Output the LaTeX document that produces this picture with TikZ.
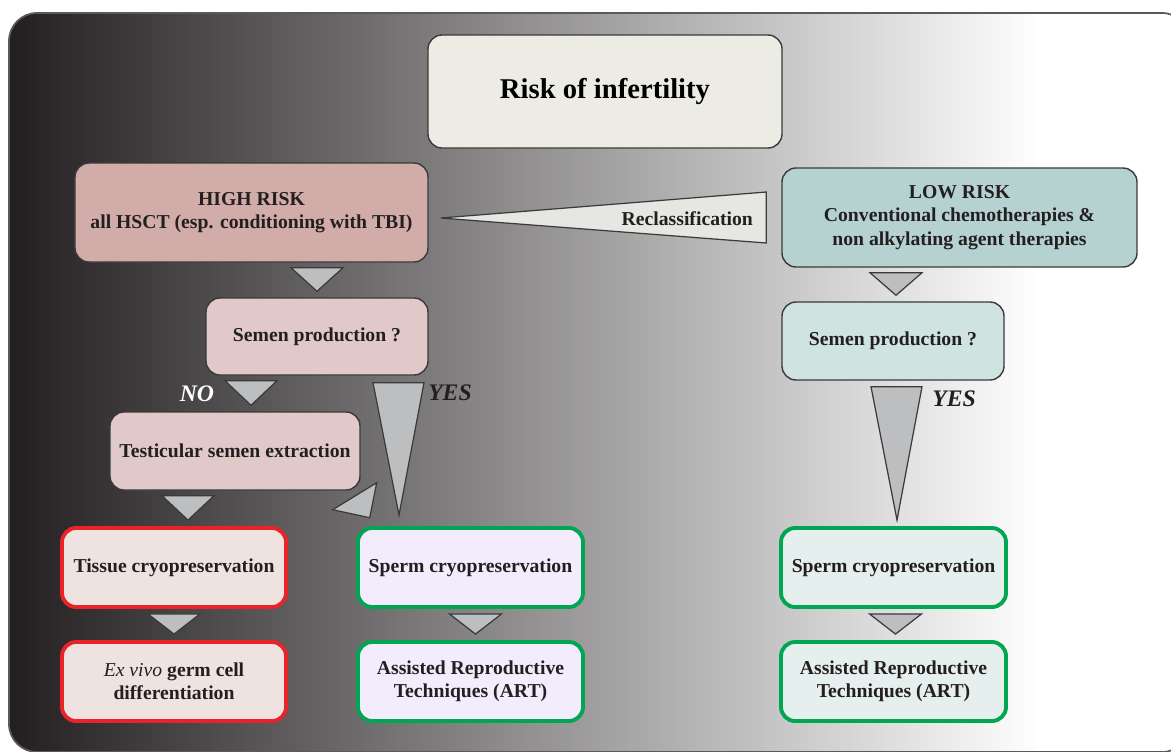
\documentclass[tikz,border=0pt]{standalone}
\usepackage{fontspec}
\setmainfont{Liberation Serif}
\usepackage{tikz}
\usetikzlibrary{calc}

\definecolor{bgdark}{HTML}{231F20}
\definecolor{bgmid}{HTML}{A3A3A3}
\definecolor{framegray}{HTML}{5A5A5A}
\definecolor{boxline}{HTML}{3A3A3A}
\definecolor{txt}{HTML}{231F20}
\definecolor{titlefill}{HTML}{EDECE4}
\definecolor{highfill}{HTML}{D1ACA8}
\definecolor{pinkfill}{HTML}{E0C9C8}
\definecolor{lowfill}{HTML}{B5D2D0}
\definecolor{tealfill}{HTML}{CFE3E1}
\definecolor{tissuefill}{HTML}{EFE3E2}
\definecolor{spermfill}{HTML}{F3ECFC}
\definecolor{mintfill}{HTML}{E5EFED}
\definecolor{redline}{HTML}{E8232A}
\definecolor{greenline}{HTML}{00A651}
\definecolor{trifill}{HTML}{BCBEC0}
\definecolor{reclfill}{HTML}{E6E7E2}

\tikzset{
  box/.style={draw=boxline, line width=0.8pt, rounded corners=8pt, align=center,
    text=txt, font=\fontsize{11.2}{13.3}\selectfont\bfseries, inner sep=2pt},
  redbox/.style={box, draw=redline, line width=2.2pt, fill=tissuefill,
    minimum width=44.8mm, minimum height=15.8mm},
  greenbox/.style={box, draw=greenline, line width=2.2pt,
    minimum width=45mm, minimum height=15.8mm},
  tri/.style={draw=boxline, fill=trifill, line width=0.7pt, line join=miter},
  yesno/.style={font=\fontsize{13.5}{15}\selectfont\bfseries\itshape, text=txt},
}

% triangle from one box down to the next, tip shifted by #1
\newcommand{\flowtri}[3][0]{%
  \path[tri] ($(#2.south -| #3.north)+(#1-26,5)$) -- ($(#2.south -| #3.north)+(#1+26,5)$)
    -- ($(#3.north)+(#1,-6)$) -- cycle;}

\begin{document}
\begin{tikzpicture}[x=0.2mm, y=-0.2mm]
  \useasboundingbox (0,0) rectangle (1171,751);
  \clip (0,0) rectangle (1171,751);

  \begin{scope}
    \clip[rounded corners=5.6mm] (9,13) rectangle (1190,752);
    \fill[white] (9,13) rectangle (1190,752);
    \shade[left color=bgdark, middle color=bgmid, right color=white] (9,13) rectangle (1040,752);
  \end{scope}
  \draw[framegray, line width=1pt, rounded corners=5.6mm] (9,13) rectangle (1190,752);

  \node[box, fill=titlefill, minimum width=70.8mm, minimum height=22.6mm,
    font=\fontsize{16.3}{18}\selectfont\bfseries, text=black] (risk) at (605,91.5) {Risk of infertility};
  \node[box, fill=highfill, minimum width=70.6mm, minimum height=19.8mm] (high) at (251.5,212.5)
    {HIGH RISK\\all HSCT (esp. conditioning with TBI)};
  \node[box, fill=lowfill, minimum width=71mm, minimum height=19.8mm] (low) at (959.5,217.5)
    {LOW RISK\\Conventional chemotherapies \&\\non alkylating agent therapies};

  \node[box, fill=pinkfill, minimum width=44.4mm, minimum height=15.4mm] (semL) at (317,336.5) {Semen production ?};
  \node[box, fill=pinkfill, minimum width=50mm, minimum height=15.6mm] (testis) at (235,451) {Testicular semen extraction};
  \node[redbox] (tissue) at (174,567.5) {Tissue cryopreservation};
  \node[redbox] (exvivo) at (174,681.5) {{\mdseries\itshape Ex vivo} germ cell\\differentiation};
  \node[greenbox, fill=spermfill] (spermL) at (470.5,567.5) {Sperm cryopreservation};
  \node[greenbox, fill=spermfill] (artL) at (470.5,681.5) {Assisted Reproductive\\Techniques (ART)};

  \node[box, fill=tealfill, minimum width=44.4mm, minimum height=15.6mm] (semR) at (893,341) {Semen production ?};
  \node[greenbox, fill=mintfill] (spermR) at (893.5,567.5) {Sperm cryopreservation};
  \node[greenbox, fill=mintfill] (artR) at (893.5,681.5) {Assisted Reproductive\\Techniques (ART)};

  \path[tri, fill=reclfill] ($(high.east)+(12,5.5)$) -- ($(low.west)+(-15,-25.5)$)
    -- ($(low.west)+(-15,25.5)$) -- cycle;
  \node[box, draw=none, fill=none] (recl) at ($(low.west)+(-94,1.5)$) {Reclassification};

  \flowtri{high}{semL}
  \flowtri[16]{semL}{testis}
  \flowtri[14]{testis}{tissue}
  \flowtri{tissue}{exvivo}
  \flowtri[5]{spermL}{artL}
  \flowtri[3]{low}{semR}
  \flowtri[2]{spermR}{artR}

  \path[tri] ($(semL.south)+(56,7)$) -- ($(semL.south)+(107,7)$) -- ($(spermL.north)+(-71.5,-11)$) -- cycle;
  \path[tri] ($(testis.south east)+(-28,19)$) -- ($(testis.south east)+(16,-8)$) -- ($(testis.south east)+(9,27)$) -- cycle;
  \path[tri] ($(semR.south)+(-22,6)$) -- ($(semR.south)+(29,6)$) -- ($(spermR.north)+(3.5,-6)$) -- cycle;

  \node[yesno, text=white] (no) at (197,394) {NO};
  \node[yesno] (yesL) at (450,393) {YES};
  \node[yesno] (yesR) at (954,399) {YES};
\end{tikzpicture}
\end{document}
